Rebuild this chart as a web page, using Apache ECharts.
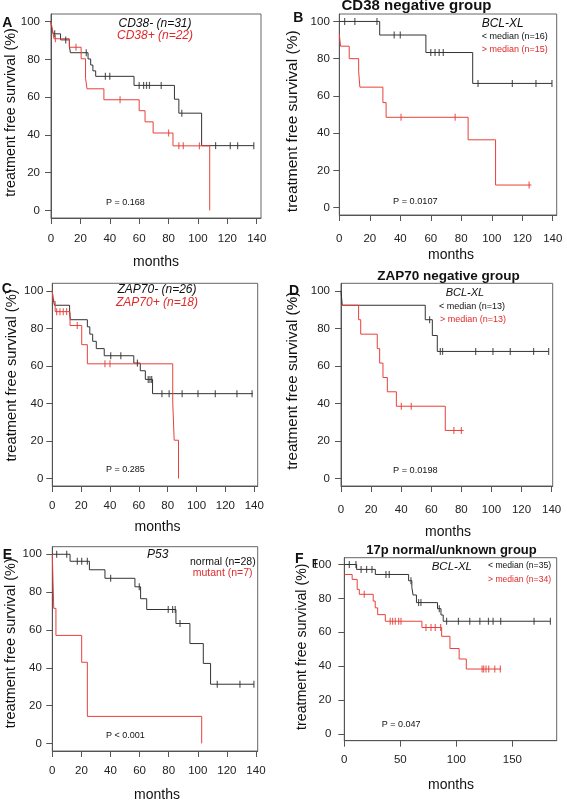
<!DOCTYPE html>
<html><head><meta charset="utf-8">
<script src="https://cdn.jsdelivr.net/npm/echarts@6/dist/echarts.min.js"></script>
<style>html,body{margin:0;padding:0;background:#fff}#c{width:567px;height:802px}</style>
</head><body><div id="c"></div>
<script>
// ---------------- DATA (Kaplan-Meier steps: [time, survival %]) ----------------
const xTicks140 = [0,20,40,60,80,100,120,140];
const xTicks150 = [0,50,100,150];
const yTicks = [0,20,40,60,80,100];

// Panel A: CD38- / CD38+
const A_neg_steps = [[0,100],[0.4,96.8],[1.5,93.5],[6.5,90.3],[12.5,87.0],[13.2,83.5],[25.2,80.2],[27,77],[28.5,73.9],[30.4,71],[56.5,66.2],[84,58.9],[87,51.5],[102.5,34.3]];
const A_neg_end = 138;
const A_neg_censor = [2.5,10,24,37,40,60,63,65,67,75,89,112,122,127,138];
const A_pos_steps = [[0,100],[1,95.5],[2,90.9],[12.5,86.4],[20.5,80.3],[23.5,70],[24.5,64.4],[36,58.6],[60,52.8],[64,46.9],[69.5,41],[83,34.2],[108,0]];
const A_pos_end = 108;
const A_pos_censor = [3,17,47,80,87,90,101];

// Panel B: CD38 negative group, BCL-XL
const B_low_steps = [[0,100],[26.5,92.7],[56.8,83.3],[87.5,66.7]];
const B_low_end = 139.5;
const B_low_censor = [3.5,10.2,24.7,36,40,60,62.8,65.5,68.2,91,113.5,129,139.5];
const B_high_steps = [[0,93.3],[0.8,86.7],[6.5,80],[12.7,73],[13.5,64.7],[28.6,56.4],[30.7,48.5],[84.5,36.4],[102.5,12.1]];
const B_high_end = 126;
const B_high_censor = [40.5,76,124.5];

// Panel C: ZAP70- / ZAP70+
const C_neg_steps = [[0,100],[0.5,96.2],[1.5,92.3],[12,88.5],[12.5,84.6],[24.3,80.8],[26,76.9],[28,73.1],[30.5,69.2],[36,65.4],[56.5,61.5],[61,57.4],[64.5,52.8],[69.5,45.2]];
const C_neg_end = 139;
const C_neg_censor = [40.5,47.5,59,66.5,67.7,68.9,76,81,90,101,113,128,138.5];
const C_pos_steps = [[0,100],[0.5,94.4],[2,88.9],[12.3,81.5],[20.4,71.3],[24.3,61.1],[83.5,40.7],[84.5,20.4],[87.5,0]];
const C_pos_end = 87.5;
const C_pos_censor = [3,5.3,7.6,9.9,17.3,36.5,40];

// Panel D: ZAP70 negative group, BCL-XL
const D_low_steps = [[0,100],[0.8,92.3],[56,84.6],[60.7,76.2],[64,67.7]];
const D_low_end = 138;
const D_low_censor = [58.9,66,67.5,89.5,101,112.5,128,138];
const D_high_steps = [[0,92.3],[11.7,84.6],[13.1,76.9],[24.1,69.2],[25.7,61.5],[27.9,53.8],[30.8,46.2],[36.8,38.5],[69.3,25.6]];
const D_high_end = 81.5;
const D_high_censor = [40.1,46.7,75,80];

// Panel E: P53 normal / mutant
const E_norm_steps = [[0,100],[12.2,96.3],[25.5,91.8],[36.2,87.3],[56.8,82.8],[60.7,76.5],[64.9,70.8],[85,63.4],[94.6,52.8],[103.8,42.3],[108.8,31.3]];
const E_norm_end = 138.6;
const E_norm_censor = [3,9.9,17.2,20.2,24.1,40.1,59.8,79.7,82.7,84.5,87.8,113.4,129,138.6];
const E_mut_steps = [[0,100],[0.5,85.7],[1,71.4],[2.5,57.1],[20.2,42.9],[24.1,14.3],[102.7,0]];
const E_mut_end = 102.7;
const E_mut_censor = [];

// Panel F: 17p normal/unknown group, BCL-XL
const F_low_steps = [[0,100],[11,97.1],[27.7,94.1],[57.4,90.4],[60.3,86.4],[61.4,82],[64.4,77.5],[83.2,73.9],[86.3,70.2],[88.3,66.5]];
const F_low_end = 184;
const F_low_censor = [4.5,10.4,15,19.9,24.7,37.2,40.1,59.5,66.3,68.4,84.8,91.3,101.9,112,121,128.7,132.8,139.6,169.4,184];
const F_high_steps = [[0,94.1],[7,91.2],[11.5,85.3],[13.4,82.4],[25.8,78.4],[27.6,74.4],[29.8,70.4],[36.6,66.5],[69.3,62.8],[86.9,57.6],[94.3,50.4],[102.5,44.2],[108.9,38.3]];
const F_high_end = 140;
const F_high_censor = [17.8,41,43.1,45.5,48.5,50.6,72.9,77.4,81.2,86,123,124.4,126.5,128.9,134.3,139.3];

// ---------------- LAYOUT / STYLE ----------------
const BLACK = '#333333', RED = '#e8403a', RED_TXT = '#e02a2a';
const FF = "'Liberation Sans', Arial, Helvetica, sans-serif";

const panels = [
  {g:{left:51, top:14, width:210, height:204}, xMax:142.9, xTicks:xTicks140, xm:15, ym:11,
   curves:[[A_neg_steps,A_neg_end,A_neg_censor,BLACK],[A_pos_steps,A_pos_end,A_pos_censor,RED]]},
  {g:{left:339.3, top:14, width:217.4, height:201}, xMax:142.6, xTicks:xTicks140, xm:18, ym:9.5,
   curves:[[B_low_steps,B_low_end,B_low_censor,BLACK],[B_high_steps,B_high_end,B_high_censor,RED]]},
  {g:{left:52.3, top:283.3, width:205.4, height:202.7}, xMax:142.4, xTicks:xTicks140, xm:13.5, ym:9,
   curves:[[C_neg_steps,C_neg_end,C_neg_censor,BLACK],[C_pos_steps,C_pos_end,C_pos_censor,RED]]},
  {g:{left:341, top:283.3, width:211.7, height:202.7}, xMax:140.7, xTicks:xTicks140, xm:17.5, ym:11,
   curves:[[D_low_steps,D_low_end,D_low_censor,BLACK],[D_high_steps,D_high_end,D_high_censor,RED]]},
  {g:{left:52.3, top:546.7, width:205.4, height:204.3}, xMax:141.2, xTicks:xTicks140, xm:14, ym:10.5,
   curves:[[E_norm_steps,E_norm_end,E_norm_censor,BLACK],[E_mut_steps,E_mut_end,E_mut_censor,RED]]},
  {g:{left:344.3, top:557.7, width:212.4, height:183}, xMax:189.6, xTicks:xTicks150, xm:13.5, ym:13,
   curves:[[F_low_steps,F_low_end,F_low_censor,BLACK],[F_high_steps,F_high_end,F_high_censor,RED]]}
];

function stepAt(steps, t){ let v = steps[0][1]; for (const s of steps){ if (s[0] <= t) v = s[1]; } return v; }

const grid = [], xAxis = [], yAxis = [], series = [];
panels.forEach((p, i) => {
  grid.push(Object.assign({show:true, borderColor:'#666', borderWidth:1, backgroundColor:'transparent', containLabel:false, outerBoundsMode:'none'}, p.g));
  xAxis.push({gridIndex:i, type:'value', min:0, max:p.xMax, position:'bottom',
    axisLine:{show:true, onZero:false, lineStyle:{color:'#555', width:1}},
    axisTick:{show:true, length:6, customValues:p.xTicks, lineStyle:{color:'#555'}},
    axisLabel:{customValues:p.xTicks, margin:p.xm, fontSize:11.5, color:'#222', fontFamily:FF},
    splitLine:{show:false}});
  yAxis.push({gridIndex:i, type:'value', min:-4, max:104, position:'left',
    axisLine:{show:true, onZero:false, lineStyle:{color:'#555', width:1}},
    axisTick:{show:true, length:6, customValues:yTicks, lineStyle:{color:'#555'}},
    axisLabel:{customValues:yTicks, margin:p.ym, fontSize:11.5, color:'#222', fontFamily:FF},
    splitLine:{show:false}});
  // draw black first then red on top (red overlaps in D)
  p.curves.forEach(([steps, end, censor, color]) => {
    const last = steps[steps.length-1];
    const data = steps.map(s => s.slice());
    if (end > last[0]) data.push([end, last[1]]);
    series.push({type:'line', xAxisIndex:i, yAxisIndex:i, step:'end', data, showSymbol:false, symbol:'none',
      lineStyle:{color, width:1}, itemStyle:{color}, animation:false, silent:true, z:2});
    series.push({type:'scatter', xAxisIndex:i, yAxisIndex:i, data: censor.map(t => [t, stepAt(steps, t)]),
      symbol:'rect', symbolSize:[1.2,7], itemStyle:{color}, animation:false, silent:true, z:3});
  });
});

function T(text, x, y, font, fill, align, rot){
  return {type:'text', x, y, rotation: rot || 0, z:10, silent:true,
    style:{text, font, fill: fill || '#111', align: align || 'center', verticalAlign:'middle',
           textAlign: align || 'center', textVerticalAlign:'middle'}};
}
const bold14 = 'bold 14px ' + FF;
const ytitle = s => s + 'px ' + FF;
const graphic = [
  // panel letters
  T('A', 7.3, 22.7, bold14), T('B', 298.3, 18.3, bold14), T('C', 6.7, 289.3, bold14),
  T('D', 294, 290.7, bold14), T('E', 7.3, 555, bold14), T('F', 299.3, 559.3, bold14),
  T('F', 315, 564.3, 'bold 10px ' + FF),
  // titles
  T('CD38 negative group', 416.5, 6, 'bold 15px ' + FF),
  T('ZAP70 negative group', 448.5, 276.7, 'bold 13.5px ' + FF),
  T('17p normal/unknown group', 451.5, 550.7, 'bold 13px ' + FF),
  // y titles
  T('treatment free survival (%)', 11, 112.5, ytitle(14.4), '#111', 'center', Math.PI/2),
  T('treatment free survival (%)', 292.7, 121.3, ytitle(15.5), '#111', 'center', Math.PI/2),
  T('treatment free survival (%)', 11.7, 375.5, ytitle(14.7), '#111', 'center', Math.PI/2),
  T('treatment free survival (%)', 292.7, 380.8, ytitle(15.2), '#111', 'center', Math.PI/2),
  T('treatment free survival (%)', 11, 643.3, ytitle(14.5), '#111', 'center', Math.PI/2),
  T('treatment free survival (%)', 301.7, 646.7, ytitle(14.2), '#111', 'center', Math.PI/2),
  // x titles
  T('months', 156, 261.7, '14px ' + FF), T('months', 451, 255, '14px ' + FF),
  T('months', 157.5, 526.7, '14px ' + FF), T('months', 448, 531.7, '14px ' + FF),
  T('months', 157, 795, '14px ' + FF), T('months', 451, 785, '14px ' + FF),
  // legends A
  T('CD38- (n=31)', 155, 24, 'italic 12px ' + FF, '#111'),
  T('CD38+ (n=22)', 155, 36, 'italic 12px ' + FF, RED_TXT),
  T('P = 0.168', 106, 203, '9px ' + FF, '#111', 'left'),
  // B
  T('BCL-XL', 481.7, 24, 'italic 12px ' + FF, '#111', 'left'),
  T('< median (n=16)', 481.7, 36.7, '9px ' + FF, '#111', 'left'),
  T('> median (n=15)', 481.7, 49.7, '9px ' + FF, RED_TXT, 'left'),
  T('P = 0.0107', 393, 201, '9.2px ' + FF, '#111', 'left'),
  // C
  T('ZAP70- (n=26)', 157, 290, 'italic 12px ' + FF, '#111'),
  T('ZAP70+ (n=18)', 157, 302.7, 'italic 12px ' + FF, RED_TXT),
  T('P = 0.285', 106, 470, '9px ' + FF, '#111', 'left'),
  // D
  T('BCL-XL', 445.7, 292.7, 'italic 11px ' + FF, '#111', 'left'),
  T('< median (n=13)', 439, 306.7, '9px ' + FF, '#111', 'left'),
  T('> median (n=13)', 440, 320, '9px ' + FF, RED_TXT, 'left'),
  T('P = 0.0198', 393, 470.7, '9.2px ' + FF, '#111', 'left'),
  // E
  T('P53', 147, 555, 'italic 12px ' + FF, '#111', 'left'),
  T('normal (n=28)', 190, 561.7, '10.5px ' + FF, '#111', 'left'),
  T('mutant (n=7)', 192.7, 573.3, '10.5px ' + FF, RED_TXT, 'left'),
  T('P < 0.001', 106, 735.7, '9px ' + FF, '#111', 'left'),
  // F
  T('BCL-XL', 431.7, 566.7, 'italic 11.5px ' + FF, '#111', 'left'),
  T('< median (n=35)', 488, 566, '8.6px ' + FF, '#111', 'left'),
  T('> median (n=34)', 488, 579.3, '8.6px ' + FF, RED_TXT, 'left'),
  T('P = 0.047', 381.7, 725, '9px ' + FF, '#111', 'left')
];

const chart = echarts.init(document.getElementById('c'), null, {renderer:'canvas'});
chart.setOption({animation:false, backgroundColor:'#fff', grid, xAxis, yAxis, series, graphic});
</script>
</body></html>
